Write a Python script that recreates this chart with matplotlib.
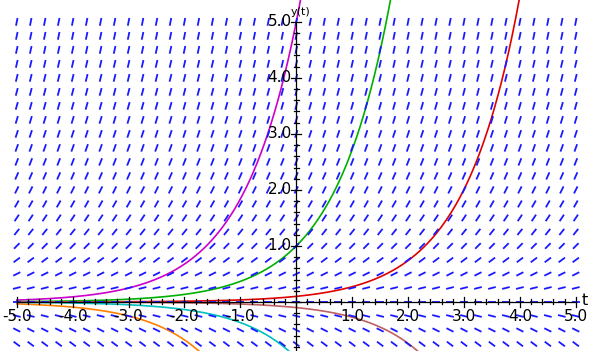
import numpy as np
import matplotlib.pyplot as plt

# direction field for y' = y, solution curves y = C*exp(t)
consts = [5.0, 1.0, 0.1, -5.0, -1.0, -0.1]
colors = ["#cc00cc", "#00b000", "#e00000", "#ff8000", "#00c0c0", "#c06060"]
t_grid = np.arange(-5.0, 5.01, 0.25)
y_grid = np.arange(-0.75, 5.01, 0.25)
xticks = [-5, -4, -3, -2, -1, 1, 2, 3, 4, 5]
yticks = [1, 2, 3, 4, 5]

fig = plt.figure(figsize=(5.92, 3.51), dpi=100)
ax = fig.add_axes([0, 0, 1, 1])
ax.set_xlim(-5.3, 5.29)
ax.set_ylim(-0.875, 5.39)
ax.axis("off")

# solution curves
t = np.linspace(-5, 5, 800)
for c, col in zip(consts, colors):
    ax.plot(t, c * np.exp(t), color=col, lw=1.2, zorder=2)

# direction field segments (short dashes)
T, Y = np.meshgrid(t_grid, y_grid)
ang = np.arctan(Y)
L = 0.07
dx = L * np.cos(ang)
dy = L * np.sin(ang)
for x0, y0, ddx, ddy in zip(T.ravel(), Y.ravel(), dx.ravel(), dy.ravel()):
    ax.plot([x0 - ddx, x0 + ddx], [y0 - ddy, y0 + ddy], color="#1a1aff",
            lw=1.3, solid_capstyle="butt", zorder=3)

# axes
ax.plot([-5, 5], [0, 0], color="black", lw=0.9, zorder=4)
ax.plot([0, 0], [-0.875, 5], color="black", lw=0.9, zorder=4)
for v in np.arange(-5, 5.01, 0.2):
    h = 0.09 if abs(v - round(v)) < 1e-6 else 0.045
    ax.plot([v, v], [-h, h], color="black", lw=0.9, zorder=4)
for v in np.arange(-0.8, 5.01, 0.2):
    h = 0.09 if abs(v - round(v)) < 1e-6 else 0.045
    ax.plot([-h, h], [v, v], color="black", lw=0.9, zorder=4)

for v in xticks:
    ax.text(v, -0.12, f"{v:.1f}", ha="center", va="top", fontsize=11, zorder=5)
for v in yticks:
    ax.text(-0.08, v, f"{v:.1f}", ha="right", va="center", fontsize=11, zorder=5)
ax.text(5.1, 0.02, "t", ha="left", va="center", fontsize=11.5, zorder=5)
ax.text(-0.1, 5.08, "y(t)", ha="left", va="bottom", fontsize=8, zorder=5)

fig.savefig("out.png", dpi=100)
